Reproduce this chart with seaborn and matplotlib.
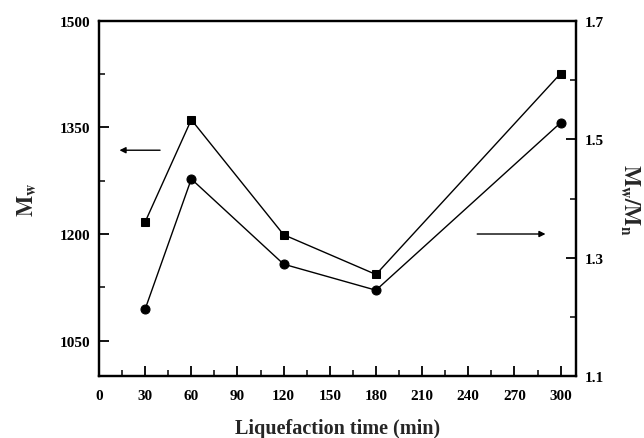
import matplotlib
matplotlib.use("Agg")
import matplotlib.pyplot as plt
import seaborn as sns
import pandas as pd

# Liquefaction time (min)
times = [30, 60, 120, 180, 300]
# Weight-average molecular weight (left axis)
mw = [1217, 1361, 1199, 1143, 1426]
# Polydispersity index Mw/Mn (right axis)
pdi = [1.213, 1.433, 1.289, 1.245, 1.528]

x_ticks = [0, 30, 60, 90, 120, 150, 180, 210, 240, 270, 300]
mw_ticks = [1050, 1200, 1350, 1500]
mw_minor = [1125, 1275, 1425]
pdi_ticks = [1.1, 1.3, 1.5, 1.7]
pdi_minor = [1.2, 1.4, 1.6]

df = pd.DataFrame({"time": times, "mw": mw, "pdi": pdi})

sns.set_style("ticks")
plt.rcParams["font.family"] = ["Liberation Serif", "DejaVu Serif"]
plt.rcParams["font.weight"] = "bold"
plt.rcParams["mathtext.fontset"] = "stix"

fig = plt.figure(figsize=(6.44, 4.39), dpi=100)
ax = fig.add_axes([0.1537, 0.1412, 0.8944 - 0.1537, 0.9499 - 0.1412])
ax2 = ax.twinx()

sns.lineplot(data=df, x="time", y="mw", marker="s", markersize=6, color="black",
             linewidth=1.0, markeredgecolor="black", ax=ax)
sns.lineplot(data=df, x="time", y="pdi", marker="o", markersize=6.5, color="black",
             linewidth=1.0, markeredgecolor="black", ax=ax2)

ax.set_xticks(x_ticks)
ax.set_xticks([v + 15 for v in x_ticks[:-1]], minor=True)
ax.set_yticks(mw_ticks)
ax.set_yticks(mw_minor, minor=True)
ax2.set_yticks(pdi_ticks)
ax2.set_yticks(pdi_minor, minor=True)

ax.set_xlim(0, 310)
ax.set_ylim(1000, 1500)
ax2.set_ylim(1.1, 1.7)

for a in (ax, ax2):
    for s in a.spines.values():
        s.set_linewidth(1.6)
        s.set_color("black")
    a.tick_params(which="major", direction="in", length=7, width=1.3,
                  labelsize=11, colors="black", pad=6)
    a.tick_params(which="minor", direction="in", length=4, width=1.3)
ax.tick_params(axis="x", pad=9)
ax.tick_params(top=False, right=False, which="both")
ax2.tick_params(left=False, top=False, which="both")
for lbl in ax.get_xticklabels() + ax.get_yticklabels() + ax2.get_yticklabels():
    lbl.set_fontweight("bold")

ax.set_xlabel("Liquefaction time (min)", fontsize=14.5, fontweight="bold", labelpad=12)
ax.set_ylabel(r"$\mathbf{M}_\mathbf{w}$", fontsize=16, labelpad=16)
ax2.set_ylabel(r"$\mathbf{M}_\mathbf{w}\mathbf{/M}_\mathbf{n}$", fontsize=16,
               rotation=270, labelpad=28)

# Arrows pointing each curve to its axis
ax.annotate("", xy=(11.5, 1318), xytext=(41.5, 1318),
            arrowprops=dict(arrowstyle="-|>", color="black", lw=1.0,
                            mutation_scale=9))
ax2.annotate("", xy=(292, 1.34), xytext=(244, 1.34),
             arrowprops=dict(arrowstyle="-|>", color="black", lw=1.0,
                             mutation_scale=9))

fig.savefig("out.png", dpi=100)
